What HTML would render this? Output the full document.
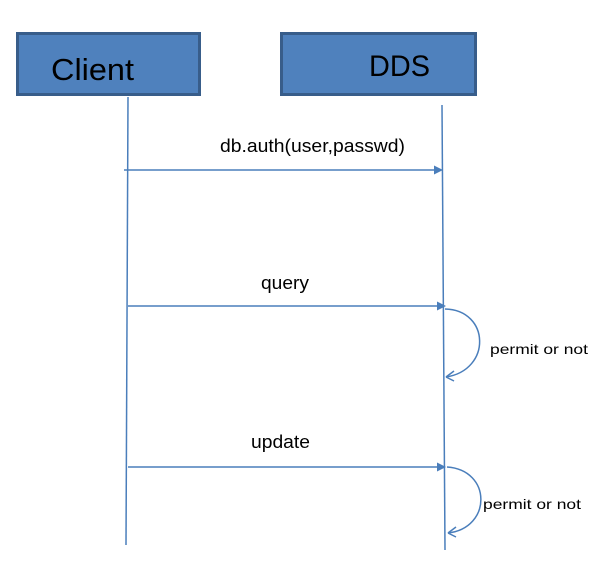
<!DOCTYPE html>
<html><head><style>body{margin:0;background:#fff}svg{display:block}text{font-family:"Liberation Sans",sans-serif;fill:#000}</style></head>
<body>
<svg width="616" height="585" viewBox="0 0 616 585">
<rect x="17.5" y="33.5" width="182" height="61" fill="#4f81bd" stroke="#385d8a" stroke-width="3"/>
<rect x="281.5" y="33.5" width="194" height="61" fill="#4f81bd" stroke="#385d8a" stroke-width="3"/>
<text x="51" y="80" font-size="31" textLength="83" lengthAdjust="spacingAndGlyphs">Client</text>
<text x="369" y="76" font-size="30" textLength="61" lengthAdjust="spacingAndGlyphs">DDS</text>
<g stroke="#4a7ebb" stroke-width="1.5" fill="none">
<line x1="128" y1="97" x2="126" y2="545"/>
<line x1="442" y1="105" x2="445" y2="550"/>
<line x1="124" y1="170" x2="436" y2="170"/>
<line x1="128" y1="306" x2="438" y2="306"/>
<line x1="128" y1="467" x2="438" y2="467"/>
<path d="M445 309 C490 310 492 370 446 377"/>
<path d="M446,377 l8,-6 M446,377 l8,4"/>
<path d="M447 467 C492 470 492 528 448 533"/>
<path d="M448,533 l8,-6 M448,533 l8,4"/>
</g>
<g fill="#4a7ebb">
<path d="M443 170 l-9 -4.5 v9z"/>
<path d="M446 306 l-9 -4.5 v9z"/>
<path d="M446 467 l-9 -4.5 v9z"/>
</g>
<text x="220" y="152" font-size="18" textLength="185" lengthAdjust="spacingAndGlyphs">db.auth(user,passwd)</text>
<text x="261" y="289" font-size="18" textLength="48" lengthAdjust="spacingAndGlyphs">query</text>
<text x="251" y="448" font-size="18" textLength="59" lengthAdjust="spacingAndGlyphs">update</text>
<text x="490" y="354" font-size="14" textLength="98" lengthAdjust="spacingAndGlyphs">permit or not</text>
<text x="483" y="509" font-size="14" textLength="98" lengthAdjust="spacingAndGlyphs">permit or not</text>
</svg>
</body></html>
